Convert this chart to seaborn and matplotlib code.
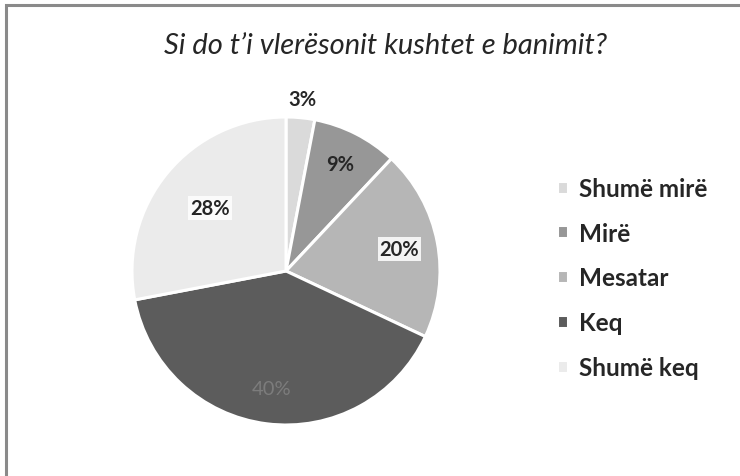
import matplotlib
matplotlib.use("Agg")
import matplotlib.pyplot as plt
import seaborn as sns
import numpy as np
from matplotlib.patches import Rectangle

categories = ["Shumë mirë", "Mirë", "Mesatar", "Keq", "Shumë keq"]
values = [3, 9, 20, 40, 28]
labels = ["3%", "9%", "20%", "40%", "28%"]
title = "Si do t\u2019i vlerësonit kushtet e banimit?"

colors = ["#dadada", "#979797", "#b6b6b6", "#5c5c5c", "#ebebeb"]
label_dist = [1.12, 0.78, 0.75, 0.77, 0.64]
label_color = ["#262626", "#262626", "#262626", "#7c7c7c", "#262626"]
label_weight = ["bold", "bold", "bold", "normal", "bold"]
label_box = [False, False, True, False, True]

sns.set_theme(style="white")
plt.rcParams['font.family'] = ['Lato', 'DejaVu Sans']

fig = plt.figure(figsize=(7.40, 4.77), dpi=100)
fig.patch.set_facecolor("white")

cx, cy, r = 286, 272, 154
W, H = 740, 477
ax = fig.add_axes([(cx - r) / W, 1 - (cy + r) / H, 2 * r / W, 2 * r / H])
wedges, _ = ax.pie(values, colors=colors, startangle=90, counterclock=False,
                   radius=1.0, wedgeprops=dict(edgecolor="white", linewidth=2.2))
ax.set_xlim(-1, 1)
ax.set_ylim(-1, 1)
ax.set_aspect("auto")
ax.axis("off")

for w, lab, d, c, fw, bx in zip(wedges, labels, label_dist, label_color, label_weight, label_box):
    ang = np.deg2rad((w.theta1 + w.theta2) / 2)
    x, y = d * np.cos(ang), d * np.sin(ang)
    kw = {}
    if bx:
        kw["bbox"] = dict(boxstyle="square,pad=0.1", facecolor="white", edgecolor="none", alpha=0.85)
    ax.text(x, y, lab, ha="center", va="center", fontsize=14.5, color=c,
            fontweight=fw, **kw)

fig.text(386 / W, 1 - 46 / H, title, ha="center", va="center", fontsize=21,
         style="italic", color="#262626")

leg = fig.legend(wedges, categories, loc="upper left",
                 bbox_to_anchor=(547 / W, 1 - 168 / H), frameon=False,
                 fontsize=17.5, handlelength=0.45, handleheight=0.45,
                 handletextpad=0.45, labelspacing=0.9, borderaxespad=0)
for t in leg.get_texts():
    t.set_color("#262626")
    t.set_fontweight("bold")

# outer frame (left and top visible)
fig.add_artist(Rectangle((6 / W, -0.05), 1.2, 1 - 6 / H + 0.05, transform=fig.transFigure,
                         fill=False, edgecolor="#8a8a8a", linewidth=2.2))

fig.savefig("out.png", dpi=100, facecolor="white")
